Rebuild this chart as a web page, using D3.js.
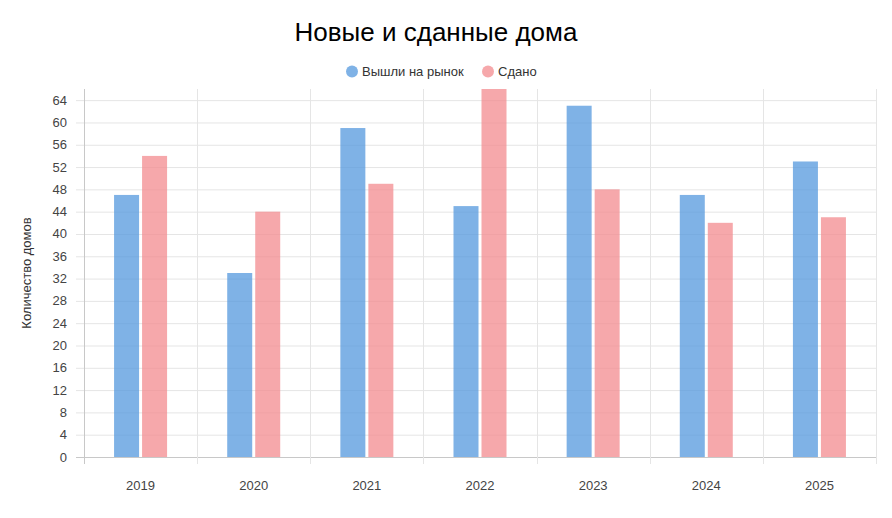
<!DOCTYPE html>
<html><head><meta charset="utf-8">
<script src="https://cdn.jsdelivr.net/npm/d3@7"></script>
<style>body{margin:0;background:#fff;font-family:Arial,"Liberation Sans",sans-serif}</style>
</head><body><svg id="c" width="892" height="518"></svg>
<script>
const categories=["2019","2020","2021","2022","2023","2024","2025"];
const released=[47,33,59,45,63,47,53];
const delivered=[54,44,49,66,48,42,43];
const yTicks=[0,4,8,12,16,20,24,28,32,36,40,44,48,52,56,60,64];
const seriesNames=["Вышли на рынок","Сдано"];
const colors=["rgba(84,152,222,0.75)","rgba(243,139,143,0.75)"];

const svg=d3.select("#c");
const L=84,R=876,T=89,B=457;
const x=d3.scaleBand().domain(categories).range([L,R]);
const y=d3.scaleLinear().domain([0,66]).range([B,T]);
const g=svg.append("g");
// horizontal grid
g.selectAll(".hg").data(yTicks).join("line").attr("x1",L-8).attr("x2",R).attr("y1",d=>y(d)+0.5).attr("y2",d=>y(d)+0.5).attr("stroke",d=>d===0?"#c8c8c8":"#e5e5e5");
// vertical grid
const vx=categories.map((c,i)=>x(c)).concat([R]);
g.selectAll(".vg").data(vx).join("line").attr("x1",d=>Math.round(d)+0.5).attr("x2",d=>Math.round(d)+0.5).attr("y1",T).attr("y2",B+7).attr("stroke",(d,i)=>i===0?"#c8c8c8":"#e5e5e5");
g.selectAll(".yl").data(yTicks).join("text").attr("x",L-17).attr("y",d=>y(d)+4.5).attr("text-anchor","end").attr("font-size",13).attr("fill","#444").text(d=>d);
g.selectAll(".xl").data(categories).join("text").attr("x",d=>x(d)+x.bandwidth()/2).attr("y",490).attr("text-anchor","middle").attr("font-size",13).attr("fill","#444").text(d=>d);
const bw=25,gap=3;
[released,delivered].forEach((arr,s)=>{
  g.selectAll(".b"+s).data(arr).join("rect")
   .attr("x",(d,i)=>x(categories[i])+x.bandwidth()/2+(s===0?-(bw+gap/2):gap/2))
   .attr("width",bw).attr("y",d=>y(d)).attr("height",d=>B-y(d)).attr("fill",colors[s]);
});
svg.append("text").attr("x",436).attr("y",41).attr("text-anchor","middle").attr("font-size",26).attr("fill","#000").text("Новые и сданные дома");
svg.append("text").attr("transform","translate(31,273) rotate(-90)").attr("text-anchor","middle").attr("font-size",13).attr("fill","#333").text("Количество домов");
// legend
const lg=[{x:352,t:seriesNames[0]},{x:488,t:seriesNames[1]}];
lg.forEach((d,i)=>{
  svg.append("circle").attr("cx",d.x).attr("cy",71.5).attr("r",6).attr("fill",colors[i]);
  svg.append("text").attr("x",d.x+10).attr("y",76).attr("font-size",13).attr("fill","#333").text(d.t);
});
</script></body></html>
